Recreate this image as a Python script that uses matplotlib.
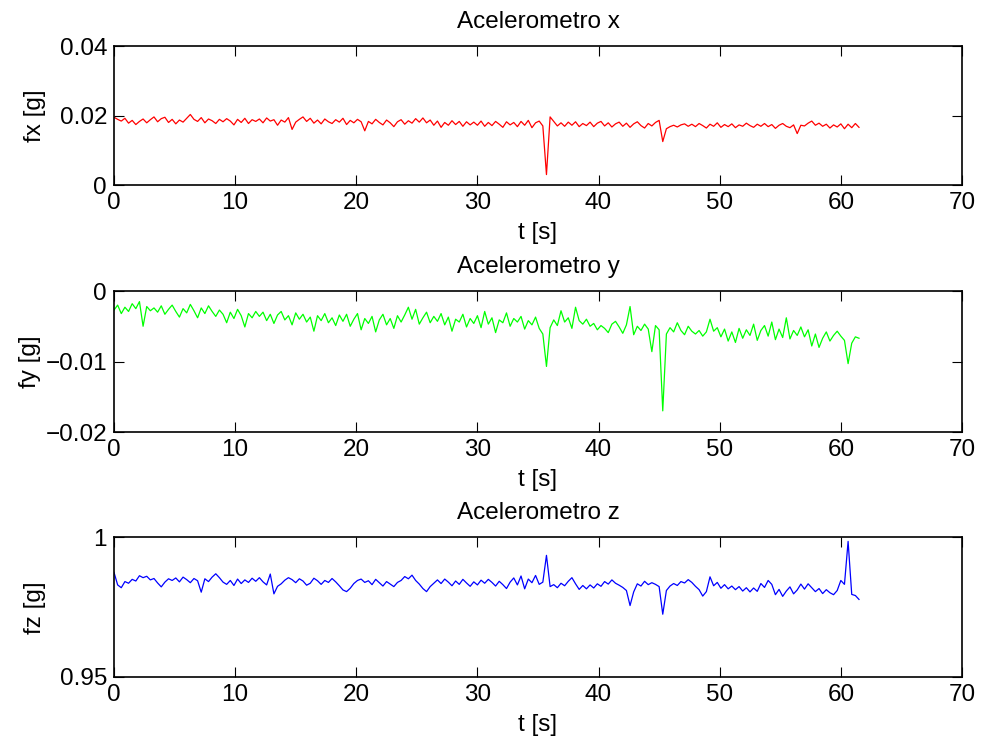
import numpy as np
import matplotlib
matplotlib.use("Agg")
import matplotlib.pyplot as plt

# Sample time step of the logged accelerometer channels [s]
dt = 0.3

# Specific force along x [mg]
fx_mg = [
    19.5, 18.9, 18.4, 19.2, 17.8, 18.6, 17.4, 18.3, 19.0, 17.9,
    18.8, 19.6, 18.2, 19.1, 19.5, 18.0, 18.9, 17.6, 18.7, 18.1,
    19.2, 20.3, 18.9, 18.3, 19.4, 17.9, 19.0, 18.5, 17.7, 18.9,
    18.2, 19.1, 18.4, 17.3, 18.9, 18.0, 19.2, 17.7, 18.8, 18.3,
    19.0, 17.9, 19.3, 18.4, 18.8, 17.2, 18.7, 18.1, 19.4, 16.0,
    18.1, 18.9, 19.6, 18.3, 19.2, 17.8, 18.7, 17.6, 19.0, 18.2,
    17.7, 18.8, 18.1, 19.2, 17.4, 18.6, 17.9, 18.9, 18.2, 15.6,
    18.3, 17.6, 18.9, 18.0, 17.3, 18.7, 17.9, 16.8, 18.2, 18.8,
    17.5, 18.5, 17.8, 19.1, 18.1, 19.3, 17.9, 18.7, 17.2, 18.4,
    16.6, 18.0, 17.2, 18.5, 17.4, 18.3, 16.9, 18.2, 17.3, 18.1,
    17.2, 18.4, 16.9, 18.0, 17.1, 18.3, 17.5, 16.6, 18.2, 17.3,
    18.0, 16.8, 18.3, 17.2, 18.6, 16.5, 17.9, 18.4, 17.0, 3.0,
    19.6, 18.3, 17.0, 17.9, 16.9, 18.1, 17.2, 18.2, 16.8, 17.7,
    17.1, 18.1, 16.8, 17.8, 18.3, 17.0, 17.9, 16.7, 17.6, 18.1,
    16.9, 17.8, 16.6, 17.6, 18.2, 17.1, 16.4, 17.7, 17.0, 18.0,
    18.6, 12.5, 16.2, 16.8, 17.2, 16.7, 17.3, 17.6, 16.9, 17.5,
    16.8, 17.7, 17.1, 16.4, 17.5, 16.9, 17.9, 16.6, 17.4, 16.8,
    17.6, 16.5, 17.3, 16.9, 17.8, 17.1, 16.6, 17.5, 16.9, 17.7,
    16.8, 17.4, 16.3, 17.2, 17.7, 16.9, 16.5, 17.3, 14.8, 17.2,
    17.0, 17.8, 18.4, 17.2, 17.8, 16.9, 17.5, 16.4, 17.3, 16.7,
    17.6, 16.2, 17.5, 16.5, 17.7, 16.6,
]

# Specific force along y [mg]
fy_mg = [
    -2.7, -2.0, -3.2, -2.3, -2.9, -1.8, -2.5, -1.5, -5.0, -2.2,
    -2.8, -2.4, -3.0, -2.1, -3.3, -2.6, -2.0, -2.9, -3.7, -2.5,
    -3.1, -1.9, -2.8, -3.8, -2.4, -3.2, -2.1, -2.9, -3.6, -2.7,
    -3.3, -4.5, -3.0, -3.9, -2.6, -3.5, -5.1, -3.2, -3.8, -2.9,
    -3.6, -3.0, -4.2, -3.3, -4.6, -3.4, -2.9, -4.1, -3.5, -4.8,
    -3.1, -4.0, -3.3, -4.4, -3.7, -5.7, -3.5, -4.2, -3.2, -4.5,
    -3.8, -4.9, -3.4, -4.3, -3.3, -5.0, -4.0, -3.2, -5.5, -3.9,
    -4.6, -3.6, -5.8, -4.1, -3.3, -4.8, -3.9, -5.3, -3.5, -4.4,
    -3.4, -2.3, -4.0, -2.6, -4.7, -3.8, -3.0, -4.5, -3.6, -4.3,
    -3.2, -4.8, -3.7, -5.7, -4.0, -4.4, -3.3, -5.1, -3.9, -4.6,
    -3.5, -5.2, -2.9, -4.7, -3.8, -5.9, -4.1, -4.5, -3.1, -5.0,
    -3.9, -4.4, -3.6, -5.4, -4.2, -4.8, -3.7, -5.3, -6.1, -10.7,
    -5.2, -4.1, -4.9, -2.8, -4.4, -3.8, -5.3, -2.3, -4.2, -4.7,
    -4.0, -5.0, -4.6, -5.5, -4.9, -5.3, -5.9, -4.7, -4.3, -5.1,
    -6.0, -4.8, -2.2, -6.2, -5.0, -5.6, -4.7, -5.4, -8.6, -4.9,
    -5.5, -17.0, -6.1, -5.2, -5.8, -4.5, -5.6, -6.2, -5.0, -5.7,
    -6.1, -5.6, -6.4, -5.8, -4.0, -5.7, -5.2, -6.5, -5.4, -7.1,
    -5.8, -7.3, -5.3, -6.7, -5.5, -6.3, -4.7, -7.0, -5.6, -4.9,
    -6.4, -4.4, -6.9, -5.4, -6.6, -3.8, -6.8, -5.6, -6.3, -5.1,
    -6.5, -5.5, -7.8, -6.1, -8.0, -6.7, -5.8, -7.1, -6.3, -5.7,
    -6.4, -7.0, -10.3, -7.4, -6.5, -6.7,
]

# Specific force along z [mg]
fz_mg = [
    987.5, 983.0, 982.0, 984.2, 983.6, 985.0, 984.4, 986.3, 985.6, 986.1,
    984.8, 985.3, 983.7, 982.3, 984.0, 985.2, 984.6, 985.5, 984.1, 985.8,
    984.9, 983.8, 985.3, 984.5, 980.4, 985.2, 984.2, 985.8, 987.0, 985.6,
    984.0, 983.2, 984.6, 982.8, 985.1, 983.5, 984.8, 983.9, 985.4, 984.3,
    985.6, 984.1, 983.0, 986.9, 979.8, 982.5, 983.4, 984.7, 985.6, 984.9,
    983.8, 985.2, 984.4, 982.9, 983.6, 985.4, 984.5, 983.2, 984.6, 983.9,
    985.3, 984.1, 982.7, 981.2, 980.6, 981.8, 983.5, 984.6, 985.1, 983.9,
    984.5, 983.1, 985.0, 983.8, 982.6, 984.2, 983.3, 982.4, 983.9, 984.6,
    986.0, 985.2, 986.5, 984.6, 983.3, 981.7, 980.6, 982.4, 983.6, 984.8,
    983.5, 985.1, 984.0, 982.7, 984.4, 983.2, 985.0, 983.7, 982.5, 984.1,
    983.0, 984.7, 983.6, 985.0, 983.9, 982.6, 984.3, 983.1, 981.7, 984.0,
    985.5, 983.0, 986.2, 981.6, 985.1, 983.8, 986.4, 983.2, 984.0, 993.6,
    982.4, 983.1, 982.0, 983.6, 982.7, 984.3, 985.6, 983.4, 981.4, 982.8,
    981.6, 983.0, 981.9, 983.4, 982.5, 984.2, 983.3, 984.8, 983.6, 982.9,
    982.1, 981.0, 975.6, 980.5, 983.4, 982.6, 984.3, 983.1, 983.8, 983.2,
    982.4, 972.5, 981.0, 982.6, 983.5, 982.8, 984.2, 983.7, 984.9, 983.9,
    982.5, 981.3, 979.0, 980.6, 985.9, 982.7, 983.9, 981.8, 983.1, 981.6,
    982.6, 981.3, 982.4, 980.8, 982.0, 980.5, 981.9, 980.7, 983.5, 982.1,
    984.6, 983.2, 979.5, 981.4, 978.9, 980.8, 982.3, 979.8, 981.2, 983.3,
    981.5, 983.4, 982.0, 980.6, 981.7, 979.9, 981.3, 980.2, 979.5, 981.0,
    984.6, 983.2, 998.6, 979.6, 979.2, 977.8,
]

titles = ["Acelerometro x", "Acelerometro y", "Acelerometro z"]
ylabels = ["fx [g]", "fy [g]", "fz [g]"]
xlabel = "t [s]"
xticks = [0, 10, 20, 30, 40, 50, 60, 70]
ylims = [(0, 0.04), (-0.02, 0), (0.95, 1.0)]
yticks = [[0, 0.02, 0.04], [-0.02, -0.01, 0], [0.95, 1.0]]
yticklabels = [["0", "0.02", "0.04"], ["\u22120.02", "\u22120.01", "0"], ["0.95", "1"]]
colors = ["#ff0000", "#00ff00", "#0000ff"]

FS = 17.5
plt.rcParams["font.family"] = ["Liberation Sans", "DejaVu Sans"]
plt.rcParams["font.size"] = FS

series = [np.array(fx_mg) / 1000.0, np.array(fy_mg) / 1000.0, np.array(fz_mg) / 1000.0]
t = np.arange(len(fx_mg)) * dt

fig = plt.figure(figsize=(9.82, 7.46), dpi=100)
# [left, bottom, width, height] of the three stacked panels
boxes = [
    [0.1161, 0.7520, 0.8635, 0.1863],
    [0.1161, 0.4209, 0.8635, 0.1890],
    [0.1161, 0.0925, 0.8635, 0.1870],
]
# horizontal placement of each y label, in axes coordinates
ylabel_x = [-0.080, -0.086, -0.080]

for i in range(3):
    ax = fig.add_axes(boxes[i])
    ax.plot(t, series[i], color=colors[i], linewidth=0.9)
    ax.set_xlim(0, 70)
    ax.set_ylim(*ylims[i])
    ax.set_xticks(xticks)
    ax.set_yticks(yticks[i])
    ax.set_yticklabels(yticklabels[i])
    ax.tick_params(direction="in", top=True, right=True, length=7, width=0.8,
                   labelsize=FS, pad=5)
    for sp in ax.spines.values():
        sp.set_linewidth(1.2)
    ax.set_title(titles[i], fontsize=FS, pad=13)
    ax.set_xlabel(xlabel, fontsize=FS, labelpad=6)
    ax.set_ylabel(ylabels[i], fontsize=FS)
    ax.yaxis.set_label_coords(ylabel_x[i], 0.5)

fig.savefig("out.png", dpi=100)
